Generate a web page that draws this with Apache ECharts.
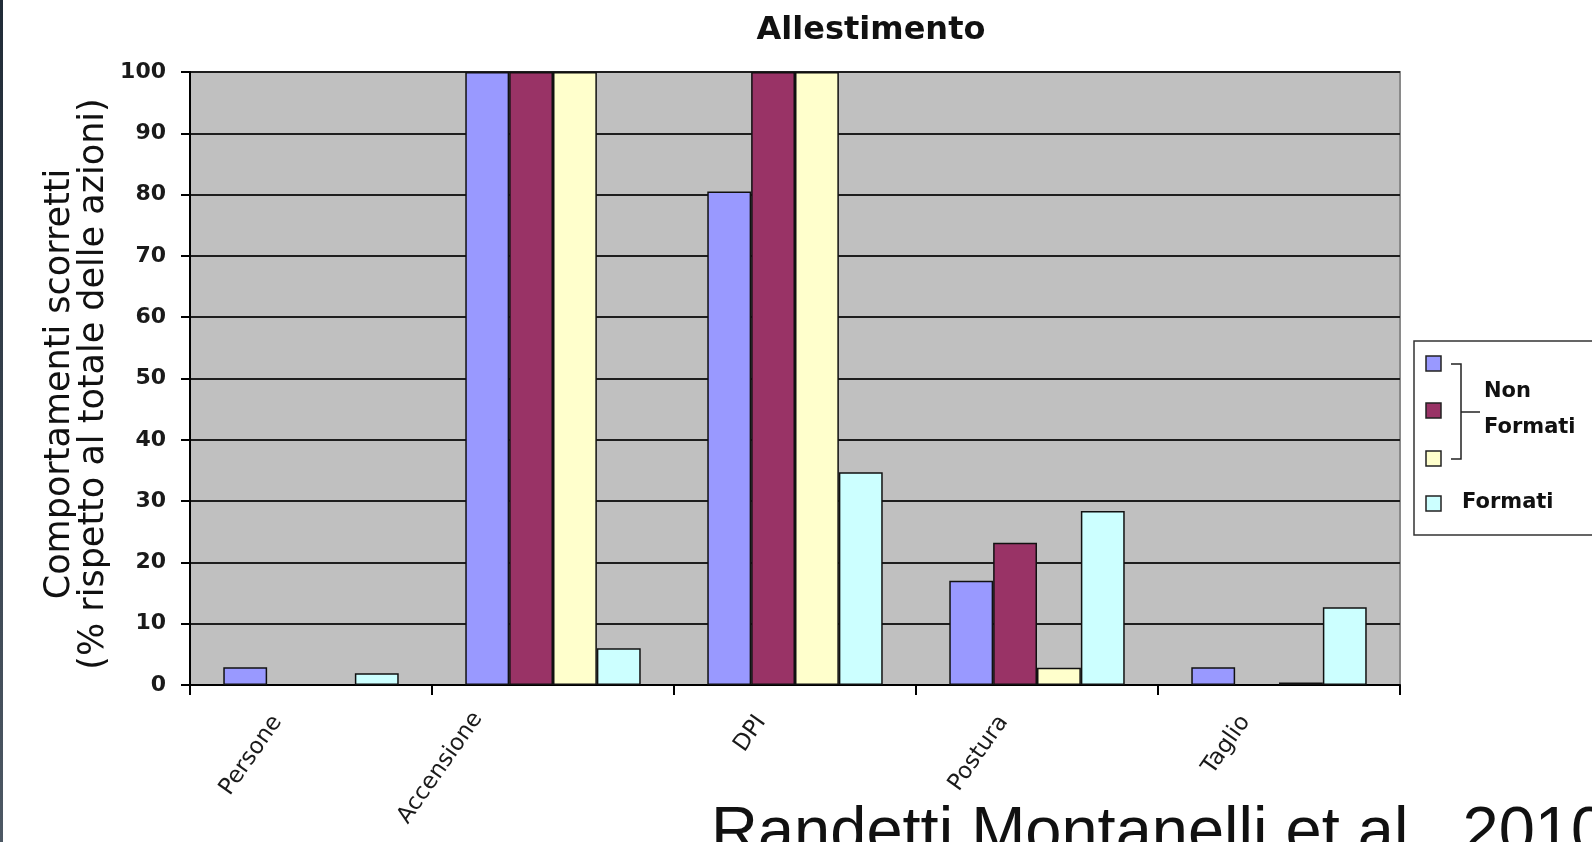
<!DOCTYPE html>
<html>
<head>
<meta charset="utf-8">
<script src="https://cdn.jsdelivr.net/npm/echarts@6/dist/echarts.min.js"></script>
<style>
html,body{margin:0;padding:0;background:#fff;}
#c{width:1592px;height:842px;}
</style>
</head>
<body>
<div id="c"></div>
<script>
const categories = ['Persone', 'Accensione', 'DPI', 'Postura', 'Taglio'];
const nonFormatiA = [2.9, 100, 80.5, 17, 2.9];
const nonFormatiB = [0, 100, 100, 23.2, 0];
const nonFormatiC = [0, 100, 100, 2.8, 0.4];
const formati = [1.9, 6, 34.7, 28.4, 12.7];
const yTicks = [0, 10, 20, 30, 40, 50, 60, 70, 80, 90, 100];

const colors = ['#9999ff', '#993366', '#ffffcc', '#ccffff'];
const chart = echarts.init(document.getElementById('c'));

function bar(name, data, color) {
  return {
    name: name,
    type: 'bar',
    data: data.map(v => v === 0 ? '-' : v),
    barGap: '0%',
    barCategoryGap: '27.5%',
    itemStyle: { color: color, borderColor: '#111', borderWidth: 1.5 },
    emphasis: { disabled: true }
  };
}

const lblFont = { fontFamily: 'DejaVu Sans', fontSize: 23, color: '#1a1a1a' };
const legX = 1414, legTop = 341;
chart.setOption({
  animation: false,
  title: {
    text: 'Allestimento',
    left: 866, top: 10, textAlign: 'center',
    textStyle: { fontFamily: 'DejaVu Sans', fontWeight: 'bold', fontSize: 32, color: '#111' }
  },
  grid: {
    left: 190, right: 192, top: 72, bottom: 157,
    show: true, backgroundColor: '#c0c0c0', borderColor: '#8a8a8a', borderWidth: 2
  },
  xAxis: {
    type: 'category',
    data: categories,
    axisLine: { lineStyle: { color: '#000', width: 2 } },
    axisTick: { show: true, length: 10, lineStyle: { color: '#000', width: 2 } },
    axisLabel: {
      rotate: 55, margin: 4,
      formatter: function (v, i) { return (i === 1 ? '{b|' : '{a|') + v + '}'; },
      rich: {
        a: Object.assign({ padding: [0, 43, 22, 0] }, lblFont),
        b: Object.assign({ padding: [0, 64, 94, 0] }, lblFont)
      }
    }
  },
  yAxis: {
    type: 'value',
    min: yTicks[0], max: yTicks[yTicks.length - 1], interval: 10,
    axisLine: { show: true, lineStyle: { color: '#000', width: 2 } },
    axisTick: { show: true, length: 9, lineStyle: { color: '#000', width: 2 } },
    axisLabel: { margin: 24, fontFamily: 'DejaVu Sans', fontWeight: 'bold', fontSize: 22, color: '#1a1a1a' },
    splitLine: { show: true, lineStyle: { color: '#1e1e1e', width: 2 } }
  },
  series: [
    bar('Non Formati 1', nonFormatiA, colors[0]),
    bar('Non Formati 2', nonFormatiB, colors[1]),
    bar('Non Formati 3', nonFormatiC, colors[2]),
    bar('Formati', formati, colors[3])
  ],
  graphic: [
    { type: 'rect', left: 0, top: 0, shape: { width: 3, height: 842 },
      style: { fill: new echarts.graphic.LinearGradient(0, 0, 0, 1, [{ offset: 0, color: '#202b37' }, { offset: 1, color: '#4d5864' }]) } },
    { type: 'text', x: 77, y: 384, rotation: Math.PI / 2,
      style: { text: 'Comportamenti scorretti\n(% rispetto al totale delle azioni)', fontFamily: 'DejaVu Sans', fontSize: 35,
        lineHeight: 34, fill: '#111', align: 'center', verticalAlign: 'middle' } },
    { type: 'rect', shape: { x: legX, y: legTop, width: 200, height: 194 },
      style: { fill: '#fff', stroke: '#333', lineWidth: 1.5 } },
    { type: 'rect', shape: { x: legX + 12, y: 356, width: 15, height: 15 }, style: { fill: colors[0], stroke: '#222', lineWidth: 1.5 } },
    { type: 'rect', shape: { x: legX + 12, y: 403, width: 15, height: 15 }, style: { fill: colors[1], stroke: '#222', lineWidth: 1.5 } },
    { type: 'rect', shape: { x: legX + 12, y: 451, width: 15, height: 15 }, style: { fill: colors[2], stroke: '#222', lineWidth: 1.5 } },
    { type: 'rect', shape: { x: legX + 12, y: 496, width: 15, height: 15 }, style: { fill: colors[3], stroke: '#222', lineWidth: 1.5 } },
    { type: 'polyline', shape: { points: [[legX + 37, 364], [legX + 47, 364], [legX + 47, 459], [legX + 37, 459]] },
      style: { stroke: '#222', lineWidth: 1.5, fill: null } },
    { type: 'line', shape: { x1: legX + 47, y1: 412, x2: legX + 66, y2: 412 }, style: { stroke: '#222', lineWidth: 1.5 } },
    { type: 'text', x: legX + 70, y: 392, style: { text: 'Non', fontFamily: 'DejaVu Sans', fontWeight: 'bold', fontSize: 21, fill: '#111', verticalAlign: 'middle' } },
    { type: 'text', x: legX + 70, y: 428, style: { text: 'Formati', fontFamily: 'DejaVu Sans', fontWeight: 'bold', fontSize: 21, fill: '#111', verticalAlign: 'middle' } },
    { type: 'text', x: legX + 48, y: 503, style: { text: 'Formati', fontFamily: 'DejaVu Sans', fontWeight: 'bold', fontSize: 21, fill: '#111', verticalAlign: 'middle' } },
    { type: 'text', x: 711, y: 802, style: { text: 'Randetti Montanelli et al., 2010', fontFamily: 'Liberation Sans', fontSize: 65, fill: '#111', verticalAlign: 'top' } }
  ]
});
</script>
</body>
</html>
